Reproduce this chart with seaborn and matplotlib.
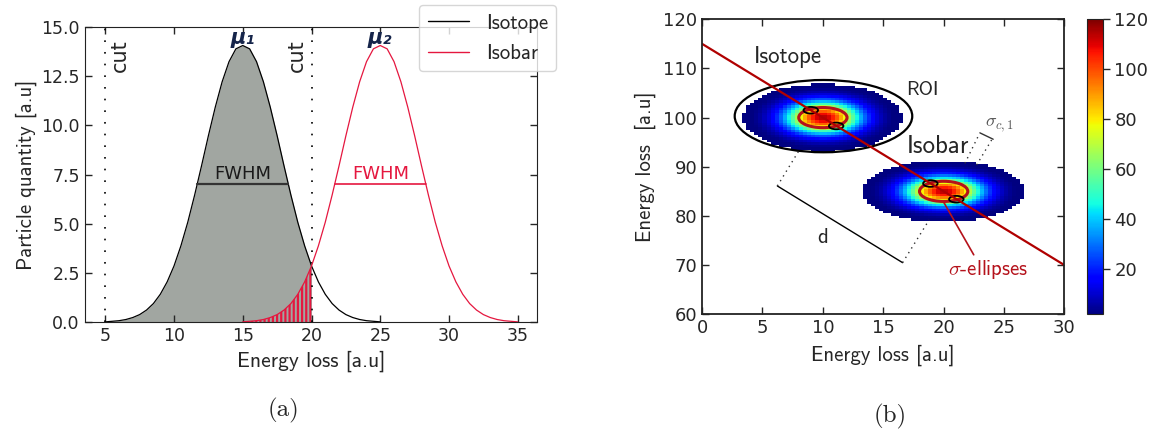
import numpy as np
import pandas as pd
import matplotlib
matplotlib.use("Agg")
import matplotlib.pyplot as plt
from matplotlib.patches import Ellipse
from matplotlib.colors import LinearSegmentedColormap
import seaborn as sns

# ---------------- panel (a) data ----------------
iso_x = np.arange(5.0, 25.01, 0.5)
iso_q = [0.02, 0.05, 0.08, 0.14, 0.24, 0.39, 0.62, 0.95, 1.42, 2.05, 2.86,
         3.88, 5.08, 6.46, 7.94, 9.47, 10.92, 12.21, 13.23, 13.88, 14.05,
         13.88, 13.23, 12.21, 10.92, 9.47, 7.94, 6.46, 5.08, 3.88, 2.86,
         2.05, 1.42, 0.95, 0.62, 0.39, 0.24, 0.14, 0.08, 0.05, 0.02]
isb_x = np.arange(15.0, 35.01, 0.5)
isb_q = [0.02, 0.05, 0.08, 0.14, 0.24, 0.39, 0.62, 0.95, 1.42, 2.05, 2.86,
         3.88, 5.08, 6.46, 7.94, 9.47, 10.92, 12.21, 13.23, 13.88, 14.05,
         13.88, 13.23, 12.21, 10.92, 9.47, 7.94, 6.46, 5.08, 3.88, 2.86,
         2.05, 1.42, 0.95, 0.62, 0.39, 0.24, 0.14, 0.08, 0.05, 0.02]
species = ["Isotope", "Isobar"]
mu = [15.0, 25.0]
fwhm_lo = [11.7, 21.7]
fwhm_hi = [18.3, 28.3]
half_max = 7.03
cut_x = [5.0, 20.0]

# ---------------- panel (b) data ----------------
blob_cx = [10.0, 20.0]
blob_cy = [100.0, 85.0]
blob_sx = [2.1, 2.15]
blob_sy = [2.2, 2.0]
blob_peak = [115.0, 114.0]
sep_x = [0.0, 30.0]
sep_y = [115.0, 70.0]
roi_center = (10.05, 100.3)
roi_size = (14.7, 14.7)
sig_cx = [10.0, 20.0]
sig_cy = [100.0, 85.0]
sig_size = (4.0, 4.1)
small_cx = [9.0, 11.1, 18.9, 21.05]
small_cy = [101.5, 98.3, 86.6, 83.4]
small_size = (1.2, 1.35)
cbar_ticks = [20, 40, 60, 80, 100, 120]

RED = "#e5173f"
DRED = "#b5121b"
GREY = "#a1a6a1"

sns.set_style("ticks")
plt.rcParams.update({
    "font.family": ["DejaVu Sans"],
    "mathtext.fontset": "cm",
    "xtick.direction": "in", "ytick.direction": "in",
    "xtick.top": True, "ytick.right": True,
    "xtick.major.size": 5, "ytick.major.size": 5,
    "xtick.major.width": 1.0, "ytick.major.width": 1.0,
    "hatch.linewidth": 1.6,
    "axes.edgecolor": "#222222",
})
SANS = "cmss10"
JET = LinearSegmentedColormap.from_list(
    "jetlike", matplotlib.colormaps["jet"](np.linspace(0, 1, 256)))

fig = plt.figure(figsize=(11.58, 4.32), dpi=100)
axA = fig.add_axes([0.0731, 0.254, 0.391, 0.684])
axB = fig.add_axes([0.6063, 0.2725, 0.3129, 0.6829])
cax = fig.add_axes([0.9384, 0.2725, 0.0138, 0.6829])

# ---------------- panel (a) ----------------
dfa = pd.DataFrame({
    "x": np.concatenate([iso_x, isb_x]),
    "y": iso_q + isb_q,
    "species": ["Isotope"] * len(iso_x) + ["Isobar"] * len(isb_x),
})
iq = np.array(iso_q)
bq = np.array(isb_q)
m1 = iso_x <= cut_x[1] + 1e-9
axA.fill_between(iso_x[m1], 0, iq[m1], color=GREY, lw=0, zorder=0.5)
m2 = isb_x <= cut_x[1] + 1e-9
axA.fill_between(isb_x[m2], 0, bq[m2], facecolor="none", edgecolor=RED,
                 hatch="||||", lw=0, zorder=0.8)
sns.lineplot(data=dfa, x="x", y="y", hue="species",
             palette={"Isotope": "black", "Isobar": RED},
             estimator=None, sort=False, lw=0.9, ax=axA, legend=False)
for cx in cut_x:
    axA.axvline(cx, color="black", lw=1.2, ls=(0, (1, 6)), zorder=1)
axA.text(6.05, 13.55, "cut", rotation=90, ha="center", va="center", fontsize=15)
axA.text(18.9, 13.55, "cut", rotation=90, ha="center", va="center", fontsize=15)
for m, lab in zip(mu, ["μ₁", "μ₂"]):
    axA.text(m, 14.45, lab, ha="center", va="center", fontsize=15,
             fontweight="bold", style="italic", color="#15244a")
axA.plot([fwhm_lo[0], fwhm_hi[0]], [half_max, half_max], color="#333333", lw=1.6)
axA.text(mu[0], half_max + 0.05, "FWHM", ha="center", va="bottom", fontsize=13,
         color="#1a1a1a")
axA.plot([fwhm_lo[1], fwhm_hi[1]], [half_max, half_max], color=RED, lw=1.2)
axA.text(mu[1], half_max + 0.05, "FWHM", ha="center", va="bottom", fontsize=13,
         color=RED)
axA.set_xlim(3.5, 36.43)
axA.set_ylim(0, 15)
axA.set_xticks([5, 10, 15, 20, 25, 30, 35])
axA.set_yticks([0, 2.5, 5, 7.5, 10, 12.5, 15])
axA.set_yticklabels(["0.0", "2.5", "5.0", "7.5", "10.0", "12.5", "15.0"])
axA.tick_params(labelsize=12.5)
axA.set_xlabel("Energy loss [a.u]", fontfamily=SANS, fontsize=15.5, labelpad=4)
axA.set_ylabel("Particle quantity [a.u]", fontfamily=SANS, fontsize=15, labelpad=3)
handles = [plt.Line2D([], [], color="black", lw=1.0),
           plt.Line2D([], [], color=RED, lw=1.0)]
leg = axA.legend(handles, species, loc="upper right",
                 bbox_to_anchor=(0.4805, 0.988), bbox_transform=fig.transFigure,
                 prop={"family": SANS, "size": 15}, frameon=True,
                 edgecolor="#cccccc", handlelength=2.0, labelspacing=0.55,
                 borderaxespad=0)
leg.set_zorder(10)

# ---------------- panel (b) ----------------
xe = np.linspace(0, 30, 91)
ye = np.linspace(60, 120, 121)
xc = 0.5 * (xe[:-1] + xe[1:])
yc = 0.5 * (ye[:-1] + ye[1:])
X, Y = np.meshgrid(xc, yc)
W = np.zeros_like(X)
for cx, cy, sx, sy, pk in zip(blob_cx, blob_cy, blob_sx, blob_sy, blob_peak):
    W += pk * np.exp(-((X - cx) ** 2 / (2 * sx ** 2) + (Y - cy) ** 2 / (2 * sy ** 2)))
sns.histplot(x=X.ravel(), y=Y.ravel(), weights=W.ravel(), bins=[xe, ye],
             thresh=0.9, cmap=JET, vmin=2, vmax=120, cbar=True,
             cbar_ax=cax, ax=axB)
sns.lineplot(x=sep_x, y=sep_y, color="#b00000", lw=1.6, ax=axB)
axB.add_patch(Ellipse(roi_center, *roi_size, fill=False, ec="black", lw=1.6))
for cx, cy in zip(sig_cx, sig_cy):
    axB.add_patch(Ellipse((cx, cy), *sig_size, fill=False, ec=DRED, lw=2.2))
for cx, cy in zip(small_cx, small_cy):
    axB.add_patch(Ellipse((cx, cy), *small_size, fill=False, ec="black", lw=1.3))
axB.plot([6.23, 16.6], [86.1, 70.5], color="black", lw=1.0)
dot = dict(color="#333333", lw=1.0, ls=(0, (1, 3)))
axB.plot([6.23, 8.05], [86.1, 93.4], **dot)
axB.plot([16.6, 18.8], [70.5, 79.2], **dot)
axB.plot([21.76, 22.95], [90.7, 96.67], **dot)
axB.plot([22.73, 23.97], [90.37, 95.45], **dot)
axB.plot([23.0, 24.1], [96.9, 95.6], color="#333333", lw=1.0)
axB.plot([19.98, 22.49], [82.9, 72.1], color=DRED, lw=1.2)
axB.text(7.1, 112.3, "Isotope", ha="center", va="center", fontfamily=SANS, fontsize=16.5)
axB.text(18.2, 105.6, "ROI", ha="center", va="center", fontfamily=SANS, fontsize=14)
axB.text(19.5, 94.1, "Isobar", ha="center", va="center", fontfamily=SANS, fontsize=18)
axB.text(9.96, 75.7, "d", ha="center", va="center", fontfamily=SANS, fontsize=15)
axB.text(23.67, 69.15, r"$\sigma$-ellipses", ha="center", va="center",
         fontfamily=SANS, fontsize=15, color=DRED)
axB.text(23.4, 98.5, r"$\sigma_{c,1}$", ha="left", va="center", fontsize=13,
         color="#555555")
axB.set_xlim(0, 30)
axB.set_ylim(60, 120)
axB.set_xticks([0, 5, 10, 15, 20, 25, 30])
axB.set_yticks([60, 70, 80, 90, 100, 110, 120])
axB.tick_params(labelsize=13)
axB.set_xlabel("Energy loss [a.u]", fontfamily=SANS, fontsize=15, labelpad=5)
axB.set_ylabel("Energy loss  [a.u]", fontfamily=SANS, fontsize=15, labelpad=5)
for s in axB.spines.values():
    s.set_linewidth(1.3)

cax.set_yticks(cbar_ticks)
cax.tick_params(direction="out", length=5, labelsize=13, right=True, left=False)

fig.text(0.2444, 0.049, "(a)", ha="center", va="center", fontfamily="cmr10", fontsize=18)
fig.text(0.769, 0.036, "(b)", ha="center", va="center", fontfamily="cmr10", fontsize=18)

fig.savefig("out.png", dpi=100)
